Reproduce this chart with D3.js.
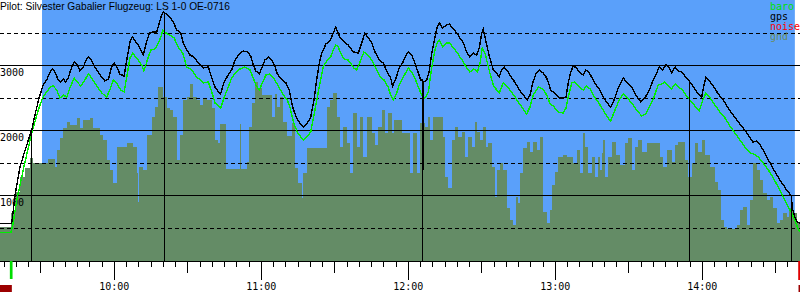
<!DOCTYPE html>
<html><head><meta charset="utf-8">
<script src="https://cdn.jsdelivr.net/npm/d3@7"></script>
<style>body{margin:0;background:#fff}svg{display:block}</style>
</head><body><svg id="c" width="800" height="300"></svg>
<script>
const titleText = "Pilot: Silvester Gabalier Flugzeug: LS 1-0 OE-0716";

// time in minutes after midnight, altitude in metres
const gpsTime = [553.4,558.1,558.8,559.5,561.5,563.6,566.3,567.6,569.4,570.6,571.0,572.4,573.8,574.9,575.8,577.1,578.1,579.2,580.2,581.2,582.2,583.6,584.7,586.0,587.4,588.5,589.4,590.4,592.1,594.2,596.2,597.6,598.9,599.9,601.0,602.3,604.0,605.1,606.4,607.4,608.5,609.8,611.8,613.2,614.3,615.7,617.3,618.4,619.3,620.0,621.4,622.7,624.1,625.5,627.1,628.2,629.6,630.9,632.5,634.3,
636.3,638.4,639.8,641.1,642.5,643.4,644.8,646.5,647.9,649.3,651.0,652.7,654.3,655.7,656.7,657.8,659.2,660.2,661.5,662.9,664.2,665.6,666.5,668.3,670.1,671.4,672.8,674.4,675.8,677.4,678.8,680.2,681.5,682.6,683.7,684.7,686.4,688.0,689.4,690.4,691.2,692.1,693.8,695.5,697.6,699.6,701.0,702.3,703.7,705.1,706.4,708.2,709.8,711.4,712.8,713.6,715.0,716.3,
717.7,718.7,720.0,721.4,722.7,724.1,725.1,725.8,726.0,726.3,727.5,728.5,729.6,730.9,731.8,732.7,734.0,735.7,736.7,738.1,739.8,741.1,742.5,743.8,745.2,746.5,747.9,749.0,750.0,750.6,751.3,752.2,753.3,754.7,756.1,757.1,758.1,759.1,760.2,761.5,762.9,764.2,765.9,767.6,768.6,769.7,770.8,772.1,773.5,775.1,776.5,777.5,778.1,779.2,780.6,781.9,783.3,784.4,785.3,786.3,787.4,788.7,790.1,791.4,792.5,793.9,795.5,796.9,798.0,
799.6,801.2,802.6,804.0,805.7,807.8,809.1,811.2,812.9,814.9,816.6,818.4,820.0,821.4,822.4,823.8,825.2,826.5,827.5,828.9,830.2,831.6,832.9,834.3,835.7,837.0,838.4,839.8,840.7,841.5,843.2,844.8,846.5,848.6,850.6,852.6,854.7,856.7,858.8,860.6,862.2,863.6,864.9,866.3,867.9,869.7,871.7,873.4,874.7,875.8,876.3,876.9,877.8,878.8,879.9];
const gpsAlt = [572,572,777,1008,1438,1700,2008,2238,2515,2654,2700,2777,2900,2946,2900,2777,2746,2792,2746,2808,2931,3054,3023,2915,2977,3085,3131,3100,2977,2854,2762,2792,2977,3038,2977,2869,2838,3085,3362,3438,3377,3315,3162,3362,3500,3515,3515,3654,3777,3823,3792,3746,3669,3546,3500,3346,3238,3162,3131,3038,
2962,2977,2808,2669,2592,2562,2746,2854,2931,3085,3177,3223,3208,3146,3008,2915,2869,2962,3085,3131,3085,2992,2869,2792,2731,2623,2362,2192,2115,2054,2115,2208,2469,2777,3038,3192,3331,3377,3500,3592,3515,3438,3362,3315,3208,3192,3346,3500,3423,3346,3208,3085,3038,2900,2808,2685,2808,2962,
3038,3131,3208,3162,3038,2885,2777,2777,1392,2746,2777,2900,3192,3438,3592,3654,3577,3623,3638,3577,3500,3423,3346,3208,3131,3192,3162,3269,3500,3562,3438,3285,3115,2931,2885,2823,2931,2977,2931,2854,2777,2700,2592,2515,2469,2546,2731,2869,2931,2885,2808,2700,2623,2592,2546,2500,2500,2515,2731,2900,2992,2962,2885,2854,2931,2885,2777,2685,2638,
2515,2423,2362,2469,2654,2808,2746,2669,2546,2438,2500,2623,2777,2885,2977,2931,3008,2962,2885,2977,2915,2900,2838,2777,2715,2638,2562,2515,2700,2823,2746,2669,2562,2469,2346,2238,2131,2038,1931,1823,1838,1777,1700,1592,1485,1362,1238,1146,1069,1023,992,792,669,592,577];

const baroTime = [553.4,557.8,558.5,560.2,563.1,566.3,569.0,570.4,571.0,572.4,573.8,575.1,576.5,577.8,579.2,580.6,581.9,583.6,584.9,586.3,588.0,589.4,590.8,592.8,594.9,596.9,598.2,599.6,601.0,602.6,604.0,605.1,606.4,607.5,609.1,611.2,612.1,613.5,614.9,616.6,618.0,619.0,619.8,621.1,622.7,624.4,626.1,627.9,629.6,631.6,633.6,634.7,
636.3,638.4,639.8,641.1,642.5,643.4,644.8,646.5,647.9,649.7,651.3,653.3,655.4,656.7,657.8,659.2,660.6,661.9,663.3,664.7,666.0,667.4,669.0,670.6,671.7,673.1,674.7,676.1,677.4,678.8,680.2,681.5,682.9,684.2,685.3,686.7,688.3,689.4,690.5,691.4,692.4,693.8,695.5,697.8,698.9,700.3,701.9,703.3,705.1,706.8,708.5,710.1,711.8,712.8,713.9,715.3,716.3,
718.0,720.0,721.4,722.7,724.1,725.5,726.8,728.2,729.6,730.9,731.8,732.7,734.0,735.7,737.0,738.4,739.8,741.1,742.5,743.8,745.2,746.8,748.2,749.3,750.2,751.3,752.2,753.3,754.7,756.1,757.1,758.8,760.2,761.5,763.6,764.9,766.7,768.3,769.7,771.0,773.1,774.9,776.5,777.8,779.5,781.2,783.3,784.4,785.3,786.7,788.0,789.8,791.4,792.8,794.2,795.5,796.9,798.0,
799.6,801.2,802.6,804.4,806.1,807.8,809.4,811.2,813.2,815.3,817.0,818.6,820.3,822.0,823.4,824.8,826.1,827.5,828.9,830.2,831.6,833.3,835.0,837.0,838.8,840.2,841.5,843.2,845.2,847.2,849.3,851.3,853.3,855.4,857.4,859.5,861.1,862.9,864.9,867.0,869.0,871.0,873.1,874.7,876.5,877.8,878.8,879.9];
const baroAlt = [434,434,531,931,1438,1962,2315,2469,2515,2592,2669,2685,2623,2500,2546,2515,2654,2808,2746,2685,2777,2869,2808,2685,2577,2515,2623,2777,2731,2623,2592,2823,3115,3192,3115,3008,2915,3085,3238,3254,3346,3438,3546,3500,3469,3423,3285,3192,2977,2931,2823,2792,
2731,2746,2592,2423,2377,2346,2500,2669,2808,2900,2946,2977,2931,2808,2700,2623,2746,2854,2869,2823,2746,2654,2546,2469,2362,2131,1977,1900,1854,1915,1977,2238,2515,2777,2977,3069,3131,3238,3315,3285,3192,3100,3085,2962,2931,3054,3208,3162,3085,2962,2823,2777,2669,2546,2469,2577,2700,
2823,2962,2900,2808,2669,2546,2500,2592,2977,3238,3346,3392,3285,3346,3346,3269,3208,3131,3054,2962,2900,2946,2900,3038,3269,3192,3054,2885,2700,2623,2577,2731,2685,2623,2515,2438,2346,2254,2362,2546,2669,2638,2546,2423,2362,2285,2269,2346,2515,2731,2746,2669,2623,2685,2638,2546,2469,2408,
2315,2208,2146,2315,2469,2562,2500,2423,2315,2223,2254,2377,2515,2700,2715,2746,2685,2638,2715,2669,2638,2546,2469,2377,2300,2469,2577,2500,2392,2285,2192,2069,1962,1854,1746,1654,1638,1592,1500,1392,1269,1131,977,854,731,623,515,438];

// terrain under the track (step values)
const gndTime = [553.4,557.8,559.5,561.5,563.6,565.6,566.8,572.9,575.8,576.6,577.8,579.1,580.7,581.9,584.8,586.0,587.2,590.1,591.3,594.2,595.4,597.0,598.2,599.5,601.1,605.2,607.6,609.3,609.7,610.1,611.7,613.4,615.4,616.6,617.8,620.0,621.4,622.7,624.0,625.6,626.8,628.2,629.6,630.9,632.1,633.8,635.0,636.2,637.8,639.9,641.1,642.3,643.1,645.6,651.3,651.9,654.0,655.1,656.1,657.4,658.8,660.2,664.2,665.6,666.5,667.6,669.0,670.6,672.4,673.8,675.1,676.5,677.1,678.5,686.7,688.0,689.4,690.8,692.1,693.5,694.9,696.2,697.6,699.0,700.3,701.7,703.0,705.1,706.4,707.8,709.1,710.5,711.8,713.2,714.3,717.3,720.7,722.0,723.4,724.8,726.8,728.2,728.9,730.2,734.3,735.0,736.3,737.7,739.1,740.4,741.8,743.1,744.5,745.9,747.2,748.2,749.3,750.6,751.7,752.7,754.0,755.4,756.1,757.4,758.8,760.2,761.5,762.9,764.0,764.9,765.6,767.0,768.3,769.7,771.0,772.4,773.8,775.1,776.5,777.8,778.5,779.9,781.2,783.3,784.7,787.4,788.7,790.1,791.4,792.1,793.5,794.9,796.2,797.6,798.3,799.0,799.6,800.3,801.6,803.0,804.8,806.4,808.5,809.8,811.2,812.5,813.9,815.3,817.3,822.7,824.1,825.5,827.5,828.9,830.2,833.0,834.3,835.7,837.0,838.4,839.8,841.1,843.2,845.2,846.5,847.5,848.9,850.0,854.0,855.4,856.7,858.1,859.5,860.8,862.2,863.6,864.9,866.3,867.6,869.0,870.4,871.7,873.1,874.5,875.5,876.9,878.5,879.9];
const gndAlt = [515,731,1054,1285,1423,1577,1500,1562,1438,1700,1885,2038,2131,2085,2192,2038,2162,2192,2038,1931,1854,1546,1392,1192,1746,1808,1746,1346,900,1438,1392,1931,2208,2362,2669,2515,2346,2315,2208,1546,1931,2469,2515,2715,2515,2469,2392,2500,2469,2346,1854,1808,2100,1408,2100,1408,1515,2054,2423,2746,2654,2546,2208,2562,2362,2515,2131,1915,2115,1423,1192,962,1346,1731,2362,2469,2577,2208,1746,2054,1808,1346,2269,1746,2208,1592,2208,1962,1777,2054,2315,1962,2269,1962,2162,1962,1346,1962,1346,2115,2054,2208,1854,2208,1900,1285,1115,1854,2054,1900,1977,1592,1900,1746,2131,1977,1854,2054,1746,1808,1438,977,1392,1500,1392,808,623,546,977,885,1346,1731,1823,1669,1823,1700,1900,746,577,777,1162,1362,1592,1623,1592,1500,1700,1346,1962,1746,1346,1592,1285,1592,1392,1654,1854,1285,1592,1823,1623,1469,1808,1885,1392,1746,1854,1669,1808,1592,1438,1700,1515,1777,1823,1546,1285,1500,1808,1669,1854,1623,1438,1208,1085,623,515,485,546,777,823,546,931,1500,1392,1238,1038,931,977,808,577,623,731,669,808,731,592,592];

const markerTimes = [566.1, 620.4, 725.7, 834.7, 876.3];
const skySpan = [570.5, 877.8];
const takeoffTime = 557.9;
const landingTime = 879.5;
const hourTicks = [600, 660, 720, 780, 840];
const hourLabels = ["10:00", "11:00", "12:00", "13:00", "14:00"];
const altSolid = [1000, 2000, 3000];
const altDashed = [500, 1500, 2500, 3500];
const altLabels = ["1000", "2000", "3000"];
const legendNames = ["baro", "gps", "noise", "gnd"];
const legendColors = ["#00e000", "#000000", "#ff0000", "#6a8c5c"];

const W = 800, H = 300, baseY = 261;
const svg = d3.select("#c");
const x = d3.scaleLinear().domain([553.35, 879.9]).range([0, W]);
const y = d3.scaleLinear().domain([0, 4000]).range([260.5, 0.5]);
const px = v => Math.floor(v) + 0.5;

// sky
svg.append("rect").attr("x", x(skySpan[0])).attr("y", 0)
  .attr("width", x(skySpan[1]) - x(skySpan[0])).attr("height", baseY)
  .attr("fill", "#5aa0fa");

// terrain
const gnd = gndTime.map((t, i) => [t, gndAlt[i]]);
svg.append("path").datum(gnd)
  .attr("d", d3.area().x(d => x(d[0])).y0(baseY).y1(d => y(d[1])).curve(d3.curveStepAfter))
  .attr("fill", "#648c66").attr("shape-rendering", "crispEdges");

// grid
svg.append("g").selectAll("line").data(altSolid).join("line")
  .attr("x1", 0).attr("x2", W).attr("y1", d => px(y(d))).attr("y2", d => px(y(d)))
  .attr("stroke", "#000").attr("stroke-width", 1).attr("shape-rendering", "crispEdges");
svg.append("g").selectAll("line").data(altDashed).join("line")
  .attr("x1", 0).attr("x2", W).attr("y1", d => px(y(d))).attr("y2", d => px(y(d)))
  .attr("stroke", "#000").attr("stroke-width", 1).attr("stroke-dasharray", "4,3")
  .attr("shape-rendering", "crispEdges");

// altitude labels
svg.append("g").selectAll("text").data(altSolid).join("text")
  .attr("x", 0).attr("y", d => px(y(d)) + 10)
  .text((d, i) => altLabels[i])
  .attr("font-family", "DejaVu Sans Mono, monospace").attr("font-size", 10).attr("fill", "#000");

// curves
const line = d3.line().x(d => x(d[0])).y(d => y(d[1]));
svg.append("path").datum(baroTime.map((t, i) => [t, baroAlt[i]]))
  .attr("d", line).attr("fill", "none").attr("stroke", "#00ee00").attr("stroke-width", 1.4)
  .attr("shape-rendering", "crispEdges");
svg.append("path").datum(gpsTime.map((t, i) => [t, gpsAlt[i]]))
  .attr("d", line).attr("fill", "none").attr("stroke", "#000").attr("stroke-width", 1.4)
  .attr("shape-rendering", "crispEdges");

// task/marker verticals from gps trace down to base
const gpsAt = t => {
  const i = d3.bisectLeft(gpsTime, t);
  if (i <= 0) return gpsAlt[0];
  if (i >= gpsTime.length) return gpsAlt[gpsAlt.length - 1];
  const t0 = gpsTime[i - 1], t1 = gpsTime[i];
  return gpsAlt[i - 1] + (gpsAlt[i] - gpsAlt[i - 1]) * (t - t0) / (t1 - t0);
};
svg.append("g").selectAll("line").data(markerTimes).join("line")
  .attr("x1", d => px(x(d))).attr("x2", d => px(x(d)))
  .attr("y1", d => y(gpsAt(d))).attr("y2", baseY)
  .attr("stroke", "#000").attr("stroke-width", 1).attr("shape-rendering", "crispEdges");

// time axis
svg.append("line").attr("x1", 0).attr("x2", W).attr("y1", baseY + 0.5).attr("y2", baseY + 0.5)
  .attr("stroke", "#000").attr("shape-rendering", "crispEdges");
const ticks = d3.range(555, 880, 5);
svg.append("g").selectAll("line").data(ticks).join("line")
  .attr("x1", d => px(x(d))).attr("x2", d => px(x(d)))
  .attr("y1", baseY).attr("y2", d => baseY + (d % 60 === 0 ? 19 : d % 30 === 0 ? 12 : 6))
  .attr("stroke", "#000").attr("shape-rendering", "crispEdges");
svg.append("g").selectAll("text").data(hourTicks).join("text")
  .attr("x", d => x(d)).attr("y", 290).attr("text-anchor", "middle")
  .text((d, i) => hourLabels[i])
  .attr("font-family", "DejaVu Sans Mono, monospace").attr("font-size", 10).attr("fill", "#000");

// takeoff / landing markers
svg.append("rect").attr("x", x(takeoffTime) - 1.3).attr("y", baseY).attr("width", 2.7).attr("height", 18)
  .attr("fill", "#00dd00");
svg.append("rect").attr("x", x(landingTime) - 0.8).attr("y", baseY).attr("width", 2).attr("height", 19)
  .attr("fill", "#e00000");
svg.append("rect").attr("x", 0).attr("y", 285).attr("width", x(takeoffTime) + 0.7).attr("height", 7)
  .attr("fill", "#9c0000");
svg.append("rect").attr("x", x(landingTime) - 0.5).attr("y", 285).attr("width", W - x(landingTime) + 0.5).attr("height", 7)
  .attr("fill", "#9c0000");

// title
svg.append("text").attr("x", 0).attr("y", 10).text(titleText)
  .attr("font-family", "Liberation Sans, Arial, sans-serif").attr("font-size", 10.2).attr("fill", "#000");

// legend
svg.append("g").selectAll("text").data(legendNames).join("text")
  .attr("x", 770).attr("y", (d, i) => 10 + i * 10)
  .text(d => d).attr("fill", (d, i) => legendColors[i])
  .attr("font-family", "DejaVu Sans Mono, monospace").attr("font-size", 10);
</script>
</body></html>
